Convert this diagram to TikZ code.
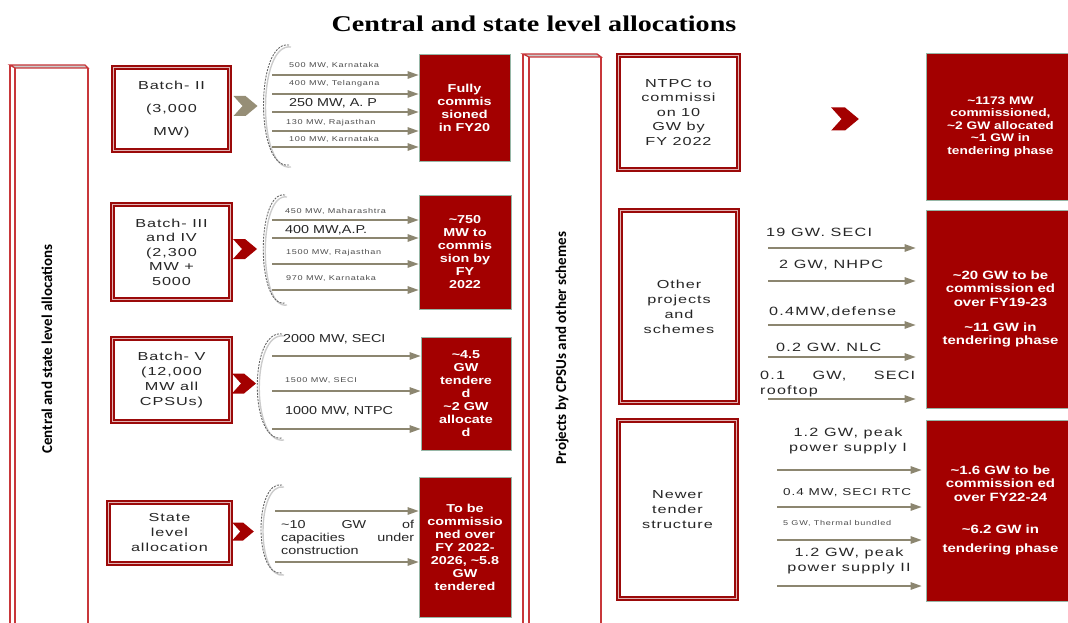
\documentclass[tikz,border=0pt]{standalone}
\usepackage{fontspec}
\setmainfont{Liberation Sans}
\newfontfamily\ttlfont{Liberation Serif}[FakeStretch=1.25]
\newfontfamily\lblfont{Liberation Sans}[FakeStretch=1.25]
\newfontfamily\boxfont{Liberation Sans}[FakeStretch=1.4,LetterSpace=8]
\newfontfamily\rlblfont{Liberation Sans}[FakeStretch=1.35,LetterSpace=10]
\newfontfamily\tinyfont{Liberation Sans}[FakeStretch=1.3,LetterSpace=10]
\newfontfamily\sidefont{Carlito}
\usetikzlibrary{arrows.meta}

\definecolor{boxred}{RGB}{163,0,0}
\definecolor{framered}{RGB}{155,10,10}
\definecolor{panelred}{RGB}{200,55,58}
\definecolor{arrowgray}{RGB}{140,134,112}
\definecolor{edgegreen}{RGB}{150,182,166}
\definecolor{khaki}{RGB}{150,142,118}

\newcommand{\apx}{\textasciitilde}

\tikzset{
  wbox/.style={draw=framered, line width=2pt, double=framered!30!white, double distance=1pt,
    fill=white, inner sep=0pt, align=center, text=black!85,
    font=\boxfont\fontsize{11.6}{14.5}\selectfont},
  rbox/.style={fill=boxred, draw=edgegreen, line width=0.8pt, inner sep=0pt, align=center,
    text=white, font=\lblfont\bfseries\fontsize{11.5}{13}\selectfont},
  flow/.style={draw=arrowgray, line width=1.3pt, -{Triangle[length=11pt,width=7.5pt]}},
  lbl/.style={inner sep=0pt, anchor=west, text=black!85, font=\lblfont\fontsize{11.5}{13}\selectfont},
  rlbl/.style={inner sep=0pt, text=black!85, font=\rlblfont\fontsize{12}{15.5}\selectfont},
  tinylbl/.style={inner sep=0pt, anchor=west, text=black!70, font=\tinyfont\fontsize{7}{8}\selectfont},
  brace/.style={draw=black!60, dash pattern=on 2pt off 1.2pt, line width=0.9pt},
  braceshadow/.style={draw=black!20, line width=1.4pt},
  panel/.style={draw=panelred, line width=1.3pt},
  sidelbl/.style={rotate=90, inner sep=0pt, font=\sidefont\bfseries\fontsize{15}{16}\selectfont},
  chev/.pic={\fill[#1] (-12,-10) -- (0,-10) -- (12,0) -- (0,10) -- (-12,10) -- (-3,0) -- cycle;}
}

\begin{document}
\begin{tikzpicture}[x=1pt,y=-1pt]
    \useasboundingbox (0,0) rectangle (1068,623);

    \node[font=\ttlfont\bfseries\fontsize{22.5}{25}\selectfont] (title) at (534,24) {Central and state level allocations};

    \draw[panel, fill=black!20] (10,65) -- (85,65) -- (88,68) -- (15,68) -- cycle;
    \draw[panel] (10,65) -- (10,630) (15,68) -- (15,630) (88,68) -- (88,630);
    \draw[panel, fill=black!20] (523,54) -- (597,54) -- (601,57) -- (529,57) -- cycle;
    \draw[panel] (523,54) -- (523,630) (529,57) -- (529,630) (601,57) -- (601,630);
    \node[sidelbl] (cside) at (47,349) {Central and state level allocations};
    \node[sidelbl] (pside) at (562,348) {Projects by CPSUs and other schemes};

    \node[wbox, minimum width=116, minimum height=83, font=\boxfont\fontsize{11.6}{23}\selectfont] (b2) at (171.5,109) {Batch- II\\(3,000\\MW)};
    \node[wbox, minimum width=118, minimum height=95] (b3) at (171.5,252) {Batch- III\\and IV\\(2,300\\MW +\\5000};
    \node[wbox, minimum width=118, minimum height=83, font=\boxfont\fontsize{11.6}{15}\selectfont] (b5) at (171.5,380) {Batch- V\\(12,000\\MW all\\CPSUs)};
    \node[wbox, minimum width=122, minimum height=61, font=\boxfont\fontsize{11.6}{15}\selectfont] (bs) at (169.5,533) {State\\level\\allocation};

    \pic at (245.5,106) {chev=khaki};
    \pic at (245,249) {chev=boxred};
    \pic at (244,383.5) {chev=boxred};
    \pic[scale=0.9] at (243,531.5) {chev=boxred};
    \pic[scale=1.15] at (845,119) {chev=boxred};

    \draw[braceshadow] (291,47) .. controls (257,42) and (257,172) .. (291,167);
    \draw[brace] (289,45) .. controls (255,40) and (255,170) .. (289,165);
    \draw[braceshadow] (287,197) .. controls (258,192) and (258,310) .. (287,305);
    \draw[brace] (285,195) .. controls (256,190) and (256,308) .. (285,303);
    \draw[braceshadow] (284,336) .. controls (251,331) and (251,445) .. (284,440);
    \draw[brace] (282,334) .. controls (249,329) and (249,443) .. (282,438);
    \draw[braceshadow] (284,487) .. controls (256,482) and (256,580) .. (284,575);
    \draw[brace] (282,485) .. controls (254,480) and (254,578) .. (282,573);

    \node[rbox, minimum width=91, minimum height=107] (r2) at (464.5,107.5) {Fully\\commis\\sioned\\in FY20};
    \node[rbox, minimum width=92, minimum height=114] (r3) at (465,252) {\apx750\\MW to\\commis\\sion by\\FY\\2022};
    \node[rbox, minimum width=90, minimum height=113] (r5) at (466,393.5) {\apx4.5\\GW\\tendere\\d\\\apx2 GW\\allocate\\d};
    \node[rbox, minimum width=92, minimum height=140] (rs) at (465,547) {To be\\commissio\\ned over\\FY 2022-\\2026, \apx5.8\\GW\\tendered};

    \coordinate (a21) at (272,75);
    \coordinate (a22) at (272,94);
    \coordinate (a23) at (272,112);
    \coordinate (a24) at (272,131);
    \coordinate (a25) at (272,147);
    \draw[flow] (a21) -- (a21 -| r2.west);
    \draw[flow] (a22) -- (a22 -| r2.west);
    \draw[flow] (a23) -- (a23 -| r2.west);
    \draw[flow] (a24) -- (a24 -| r2.west);
    \draw[flow] (a25) -- (a25 -| r2.west);
    \node[tinylbl] (l21) at (289,65) {500 MW, Karnataka};
    \node[tinylbl] (l22) at (289,84) {400 MW, Telangana};
    \node[lbl] (l23) at (289,103.5) {250 MW, A. P};
    \node[tinylbl] (l24) at (286,123) {130 MW, Rajasthan};
    \node[tinylbl] (l25) at (289,139) {100 MW, Karnataka};

    \coordinate (a31) at (272,220);
    \coordinate (a32) at (272,238);
    \coordinate (a33) at (272,264);
    \coordinate (a34) at (272,290);
    \draw[flow] (a31) -- (a31 -| r3.west);
    \draw[flow] (a32) -- (a32 -| r3.west);
    \draw[flow] (a33) -- (a33 -| r3.west);
    \draw[flow] (a34) -- (a34 -| r3.west);
    \node[tinylbl] (l31) at (285,211) {450 MW, Maharashtra};
    \node[lbl] (l32) at (285,230) {400 MW,A.P.};
    \node[tinylbl] (l33) at (286,253) {1500 MW, Rajasthan};
    \node[tinylbl] (l34) at (286,278) {970 MW, Karnataka};

    \coordinate (a51) at (272,356);
    \coordinate (a52) at (272,391);
    \coordinate (a53) at (272,429);
    \draw[flow] (a51) -- (a51 -| r5.west);
    \draw[flow] (a52) -- (a52 -| r5.west);
    \draw[flow] (a53) -- (a53 -| r5.west);
    \node[lbl] (l51) at (283,339) {2000 MW, SECI};
    \node[tinylbl] (l52) at (285,381) {1500 MW, SECI};
    \node[lbl] (l53) at (285,411) {1000 MW, NTPC};

    \coordinate (as1) at (275,511);
    \coordinate (as2) at (275,562);
    \draw[flow] (as1) -- (as1 -| rs.west);
    \draw[flow] (as2) -- (as2 -| rs.west);
    \node[lbl, text width=133, align=justify] (ls) at (281,537) {\apx10 GW of\linebreak capacities under\linebreak construction};

    \node[wbox, minimum width=120, minimum height=114] (nt) at (678.5,112.5) {NTPC to\\commissi\\on 10\\GW by\\FY 2022};
    \node[wbox, minimum width=117, minimum height=192, font=\boxfont\fontsize{11.6}{15}\selectfont] (ot) at (679,306.5) {Other\\projects\\and\\schemes};
    \node[wbox, minimum width=118, minimum height=178, font=\boxfont\fontsize{11.6}{15}\selectfont] (nw) at (677.5,509.5) {Newer\\tender\\structure};

    \node[rbox, minimum width=149, minimum height=147, font=\lblfont\bfseries\fontsize{11}{12.5}\selectfont] (ra) at (1000.5,126.5) {\apx1173 MW\\commissioned,\\\apx2 GW allocated\\\apx1 GW in\\tendering phase};
    \node[rbox, minimum width=149, minimum height=198, font=\lblfont\bfseries\fontsize{12}{13.3}\selectfont] (rb) at (1000.5,309) {\apx20 GW to be\\commission ed\\over FY19-23\\[12pt]\apx11 GW in\\tendering phase};
    \node[rbox, minimum width=149, minimum height=181, font=\lblfont\bfseries\fontsize{12}{13.3}\selectfont] (rc) at (1000.5,510.5) {\apx1.6 GW to be\\commission ed\\over FY22-24\\[19pt]\apx6.2 GW in\\[6pt]tendering phase};

    \coordinate (ao1) at (768,248);
    \coordinate (ao2) at (768,281);
    \coordinate (ao3) at (768,325);
    \coordinate (ao4) at (768,357);
    \coordinate (ao5) at (768,399);
    \draw[flow, shorten >=10pt] (ao1) -- (ao1 -| rb.west);
    \draw[flow, shorten >=10pt] (ao2) -- (ao2 -| rb.west);
    \draw[flow, shorten >=10pt] (ao3) -- (ao3 -| rb.west);
    \draw[flow, shorten >=10pt] (ao4) -- (ao4 -| rb.west);
    \draw[flow, shorten >=10pt] (ao5) -- (ao5 -| rb.west);
    \node[rlbl, anchor=west] (lo1) at (766,232) {19 GW. SECI};
    \node[rlbl, anchor=west] (lo2) at (779,265) {2 GW, NHPC};
    \node[rlbl, anchor=west] (lo3) at (769,312) {0.4MW,defense};
    \node[rlbl, anchor=west] (lo4) at (776,347) {0.2 GW. NLC};
    \node[rlbl, anchor=west, text width=155, align=justify] (lo5) at (760,384) {0.1 GW, SECI\linebreak rooftop};

    \coordinate (an1) at (777,470);
    \coordinate (an2) at (777,507);
    \coordinate (an3) at (777,540);
    \coordinate (an4) at (777,586);
    \draw[flow, shorten >=4pt] (an1) -- (an1 -| rc.west);
    \draw[flow, shorten >=4pt] (an2) -- (an2 -| rc.west);
    \draw[flow, shorten >=4pt] (an3) -- (an3 -| rc.west);
    \draw[flow, shorten >=4pt] (an4) -- (an4 -| rc.west);
    \node[rlbl, align=center] (ln1) at (848,441) {1.2 GW, peak\\power supply I};
    \node[rlbl, anchor=west, font=\rlblfont\fontsize{10}{12}\selectfont] (ln2) at (783,493) {0.4 MW, SECI RTC};
    \node[tinylbl] (ln3) at (783,523) {5 GW, Thermal bundled};
    \node[rlbl, align=center] (ln4) at (849,561) {1.2 GW, peak\\power supply II};
\end{tikzpicture}
\end{document}
